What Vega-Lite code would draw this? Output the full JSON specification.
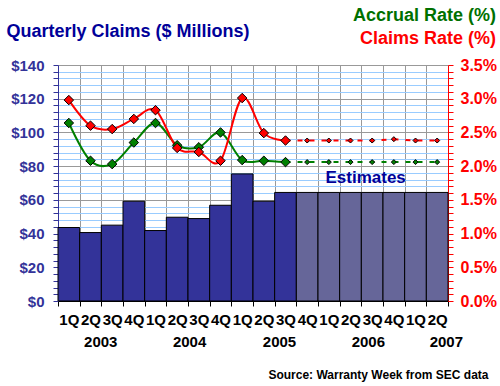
{
  "$schema": "https://vega.github.io/schema/vega-lite/v6.json",
  "width": 390,
  "height": 236,
  "autosize": {"type": "none"},
  "padding": {"left": 58, "top": 65, "right": 52, "bottom": 85},
  "background": "white",
  "config": {"font": "Liberation Sans", "view": {"stroke": null}},
  "title": {
    "text": "Accrual Rate (%)",
    "subtitle": "Claims Rate (%)",
    "anchor": "end",
    "frame": "group",
    "dx": 48,
    "dy": 30,
    "color": "#007000",
    "subtitleColor": "#FF0000",
    "fontSize": 18,
    "subtitleFontSize": 18,
    "fontWeight": "bold",
    "subtitleFontWeight": "bold",
    "font": "Liberation Sans",
    "subtitleFont": "Liberation Sans",
    "subtitlePadding": 5
  },
  "data": {
    "values": [
      {"q": "1Q03", "claims": 43.6, "accrual": 2.64, "claimsRate": 2.98, "est": false, "type": "Actual"},
      {"q": "2Q03", "claims": 40.6, "accrual": 2.08, "claimsRate": 2.6, "est": false, "type": "Actual"},
      {"q": "3Q03", "claims": 45.0, "accrual": 2.03, "claimsRate": 2.55, "est": false, "type": "Actual"},
      {"q": "4Q03", "claims": 59.2, "accrual": 2.35, "claimsRate": 2.7, "est": false, "type": "Actual"},
      {"q": "1Q04", "claims": 41.8, "accrual": 2.64, "claimsRate": 2.83, "est": false, "type": "Actual"},
      {"q": "2Q04", "claims": 49.7, "accrual": 2.31, "claimsRate": 2.27, "est": false, "type": "Actual"},
      {"q": "3Q04", "claims": 48.9, "accrual": 2.28, "claimsRate": 2.21, "est": false, "type": "Actual"},
      {"q": "4Q04", "claims": 56.8, "accrual": 2.5, "claimsRate": 2.08, "est": false, "type": "Actual"},
      {"q": "1Q05", "claims": 75.4, "accrual": 2.09, "claimsRate": 3.01, "est": false, "type": "Actual"},
      {"q": "2Q05", "claims": 59.2, "accrual": 2.08, "claimsRate": 2.49, "est": false, "type": "Actual"},
      {"q": "3Q05", "claims": 64.4, "accrual": 2.06, "claimsRate": 2.38, "est": false, "type": "Actual"},
      {"q": "4Q05", "claims": 64.4, "accrual": 2.06, "claimsRate": 2.38, "est": true, "type": "Estimate"},
      {"q": "1Q06", "claims": 64.4, "accrual": 2.06, "claimsRate": 2.38, "est": true, "type": "Estimate"},
      {"q": "2Q06", "claims": 64.4, "accrual": 2.06, "claimsRate": 2.38, "est": true, "type": "Estimate"},
      {"q": "3Q06", "claims": 64.4, "accrual": 2.06, "claimsRate": 2.38, "est": true, "type": "Estimate"},
      {"q": "4Q06", "claims": 64.4, "accrual": 2.06, "claimsRate": 2.4, "est": true, "type": "Estimate"},
      {"q": "1Q07", "claims": 64.4, "accrual": 2.06, "claimsRate": 2.38, "est": true, "type": "Estimate"},
      {"q": "2Q07", "claims": 64.4, "accrual": 2.06, "claimsRate": 2.38, "est": true, "type": "Estimate"}
    ]
  },
  "layer": [
    {
      "mark": {"type": "bar", "stroke": "black", "strokeWidth": 1},
      "encoding": {
        "x": {
          "field": "q", "type": "nominal", "sort": null,
          "scale": {"domain": ["1Q03","2Q03","3Q03","4Q03","1Q04","2Q04","3Q04","4Q04","1Q05","2Q05","3Q05","4Q05","1Q06","2Q06","3Q06","4Q06","1Q07","2Q07"], "paddingInner": 0, "paddingOuter": 0},
          "axis": {
            "title": null,
            "labelExpr": "isString(datum.value) && length(datum.value) === 4 ? substring(datum.value, 0, 2) : ''",
            "tickBand": "extent",
            "grid": true,
            "gridColor": "#999999",
            "labelAngle": 0,
            "labelFontSize": 15,
            "labelFontWeight": "bold",
            "labelColor": "black",
            "labelOverlap": false,
            "labelFlush": false,
            "labelPadding": 6,
            "tickSize": 5,
            "tickColor": "black",
            "domainColor": "black"
          }
        },
        "y": {
          "field": "claims", "type": "quantitative",
          "scale": {"domain": [0, 140], "nice": false},
          "axis": {
            "values": [0,4,8,12,16,20,24,28,32,36,40,44,48,52,56,60,64,68,72,76,80,84,88,92,96,100,104,108,112,116,120,124,128,132,136,140],
            "labelExpr": "datum.value % 20 === 0 ? '$' + datum.value : ''",
            "title": "Quarterly Claims ($ Millions)",
            "titleAngle": 0,
            "titleAlign": "left",
            "titleBaseline": "alphabetic",
            "titleX": -52,
            "titleY": -29,
            "titleColor": "#000099",
            "titleFontSize": 18,
            "titleFontWeight": "bold",
            "labelColor": "#333399",
            "labelFontSize": 15,
            "labelFontWeight": "bold",
            "labelPadding": 9,
            "domainColor": "#333399",
            "tickColor": "#333399",
            "tickSize": 5,
            "grid": true,
            "gridColor": {"condition": {"test": "datum.value % 20 === 0", "value": "#999999"}, "value": "#99CCFF"}
          }
        },
        "color": {
          "field": "type", "type": "nominal",
          "scale": {"domain": ["Actual", "Estimate"], "range": ["#333399", "#666699"]},
          "legend": null
        }
      }
    },
    {
      "transform": [{"fold": ["accrual", "claimsRate"], "as": ["series", "rate"]}],
      "encoding": {
        "x": {
          "field": "q", "type": "nominal", "sort": null,
          "scale": {"domain": ["1Q03","2Q03","3Q03","4Q03","1Q04","2Q04","3Q04","4Q04","1Q05","2Q05","3Q05","4Q05","1Q06","2Q06","3Q06","4Q06","1Q07","2Q07"], "paddingInner": 0, "paddingOuter": 0},
          "axis": null
        },
        "y": {
          "field": "rate", "type": "quantitative",
          "scale": {"domain": [0, 3.5], "nice": false},
          "axis": {
            "orient": "right",
            "title": null,
            "values": [0,0.1,0.2,0.3,0.4,0.5,0.6,0.7,0.8,0.9,1,1.1,1.2,1.3,1.4,1.5,1.6,1.7,1.8,1.9,2,2.1,2.2,2.3,2.4,2.5,2.6,2.7,2.8,2.9,3,3.1,3.2,3.3,3.4,3.5],
            "labelExpr": "round(datum.value * 10) % 5 === 0 ? format(datum.value, '.1f') + '%' : ''",
            "labelColor": "#FF0000",
            "labelFontSize": 16,
            "labelFontWeight": "bold",
            "labelPadding": 7,
            "domainColor": "#FF0000",
            "tickColor": "#FF0000",
            "tickSize": 5,
            "grid": false
          }
        }
      },
      "layer": [
        {
          "transform": [{"filter": "!datum.est"}],
          "mark": {"type": "line", "interpolate": "cardinal", "strokeWidth": 2},
          "encoding": {
            "color": {"field": "series", "type": "nominal", "scale": {"domain": ["accrual", "claimsRate"], "range": ["#008000", "#FF0000"]}, "legend": null}
          }
        },
        {
          "transform": [{"filter": "datum.est || datum.q === '3Q05'"}],
          "mark": {"type": "line", "strokeWidth": 2, "strokeDash": [5, 7]},
          "encoding": {
            "color": {"field": "series", "type": "nominal", "scale": {"domain": ["accrual", "claimsRate"], "range": ["#008000", "#FF0000"]}, "legend": null}
          }
        },
        {
          "transform": [{"filter": "!datum.est"}],
          "mark": {"type": "point", "shape": "diamond", "filled": true, "size": 90, "stroke": "black", "strokeWidth": 1, "opacity": 1},
          "encoding": {
            "fill": {"field": "series", "type": "nominal", "scale": {"domain": ["accrual", "claimsRate"], "range": ["#008000", "#FF0000"]}, "legend": null}
          }
        },
        {
          "transform": [{"filter": "datum.est"}],
          "mark": {"type": "point", "shape": "diamond", "filled": true, "size": 25, "stroke": "black", "strokeWidth": 1, "opacity": 1},
          "encoding": {
            "fill": {"field": "series", "type": "nominal", "scale": {"domain": ["accrual", "claimsRate"], "range": ["#008000", "#FF0000"]}, "legend": null}
          }
        }
      ]
    },
    {
      "data": {"values": [{"label": "Estimates", "pos": 14.2, "claims": 72.8}]},
      "mark": {"type": "text", "fontSize": 17, "fontWeight": "bold", "color": "#000099", "align": "center", "baseline": "middle"},
      "encoding": {
        "x": {
          "field": "pos", "type": "quantitative",
          "scale": {"domain": [0, 18], "nice": false, "zero": false},
          "axis": {
            "orient": "bottom",
            "values": [1.95, 6.05, 10.2, 14.3, 17.9],
            "labelExpr": "datum.value < 4 ? '2003' : datum.value < 8 ? '2004' : datum.value < 12 ? '2005' : datum.value < 16 ? '2006' : '2007'",
            "ticks": false,
            "domain": false,
            "grid": false,
            "labelPadding": 33,
            "labelFontSize": 15,
            "labelFontWeight": "bold",
            "labelColor": "black",
            "labelOverlap": false,
            "labelFlush": false,
            "title": "Source: Warranty Week from SEC data",
            "titleX": 430,
            "titleY": 77,
            "titleAlign": "right",
            "titleAnchor": null,
            "titleBaseline": "alphabetic",
            "titleFontSize": 12,
            "titleFontWeight": "bold",
            "titleColor": "black"
          }
        },
        "y": {
          "field": "claims", "type": "quantitative",
          "scale": {"domain": [0, 140], "nice": false},
          "axis": null
        },
        "text": {"field": "label"}
      }
    }
  ],
  "resolve": {"scale": {"x": "independent", "y": "independent", "color": "independent", "fill": "independent"}}
}
